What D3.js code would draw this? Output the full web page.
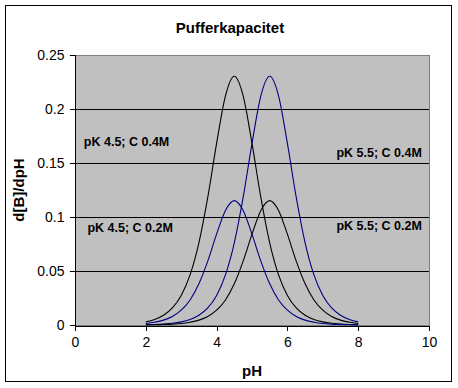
<!DOCTYPE html>
<html>
<head>
<meta charset="utf-8">
<script src="https://cdn.jsdelivr.net/npm/d3@7"></script>
<style>
  body { margin: 0; background: #fff; }
  text { font-family: Arial, "Liberation Sans", sans-serif; }
</style>
</head>
<body>
<script>
// pH values, same for all four curves
var phValues = [2, 2.25, 2.5, 2.75, 3, 3.25, 3.5, 3.75, 4, 4.25, 4.5, 4.75, 5,
    5.25, 5.5, 5.75, 6, 6.25, 6.5, 6.75, 7, 7.25, 7.5, 7.75, 8];

// buffer capacity
var pk45c04 = [0.0029, 0.0051, 0.0090, 0.0158, 0.0274, 0.0464, 0.0761, 0.1181, 0.1682,
    0.2122, 0.2303, 0.2122, 0.1682, 0.1181, 0.0761, 0.0464, 0.0274, 0.0158, 0.0090,
    0.0051, 0.0029, 0.0016, 0.0009, 0.0005, 0.0003];
var pk55c04 = [0.0003, 0.0005, 0.0009, 0.0016, 0.0029, 0.0051, 0.0090, 0.0158, 0.0274,
    0.0464, 0.0761, 0.1181, 0.1682, 0.2122, 0.2303, 0.2122, 0.1682, 0.1181, 0.0761,
    0.0464, 0.0274, 0.0158, 0.0090, 0.0051, 0.0029];
var pk45c02 = [0.0014, 0.0026, 0.0045, 0.0079, 0.0137, 0.0232, 0.0381, 0.0591, 0.0841,
    0.1061, 0.1152, 0.1061, 0.0841, 0.0591, 0.0381, 0.0232, 0.0137, 0.0079, 0.0045,
    0.0026, 0.0014, 0.0008, 0.0005, 0.0003, 0.0001];
var pk55c02 = [0.0001, 0.0003, 0.0005, 0.0008, 0.0014, 0.0026, 0.0045, 0.0079, 0.0137,
    0.0232, 0.0381, 0.0591, 0.0841, 0.1061, 0.1152, 0.1061, 0.0841, 0.0591, 0.0381,
    0.0232, 0.0137, 0.0079, 0.0045, 0.0026, 0.0014];

var xTicks = [0, 2, 4, 6, 8, 10];
var yTicks = [0, 0.05, 0.1, 0.15, 0.2, 0.25];

var series = [
    {values: pk45c04, color: '#000000'},
    {values: pk55c04, color: '#000080'},
    {values: pk45c02, color: '#000080'},
    {values: pk55c02, color: '#000000'}
];

var labels = [
    {text: 'pK 4.5; C 0.4M', x: 0.25, y: 0.166, anchor: 'start'},
    {text: 'pK 4.5; C 0.2M', x: 0.35, y: 0.086, anchor: 'start'},
    {text: 'pK 5.5; C 0.4M', x: 9.8, y: 0.156, anchor: 'end'},
    {text: 'pK 5.5; C 0.2M', x: 9.8, y: 0.088, anchor: 'end'}
];

var width = 458, height = 388;
var plot = {left: 75, right: 429, top: 55, bottom: 325};

var svg = d3.select('body')
    .append('svg')
    .attr('width', width)
    .attr('height', height);

// outer chart frame
svg.append('rect')
    .attr('x', 5.5)
    .attr('y', 5.5)
    .attr('width', 446)
    .attr('height', 376)
    .style('fill', '#fff')
    .style('stroke', '#000');

var x = d3.scaleLinear().domain([0, 10]).range([plot.left, plot.right]);
var y = d3.scaleLinear().domain([0, 0.25]).range([plot.bottom, plot.top]);

// grey plot area
svg.append('rect')
    .attr('x', plot.left)
    .attr('y', plot.top)
    .attr('width', plot.right - plot.left)
    .attr('height', plot.bottom - plot.top)
    .style('fill', '#c0c0c0')
    .style('stroke', '#808080')
    .attr('shape-rendering', 'crispEdges');

// gridlines
svg.selectAll('.grid')
    .data(yTicks.filter(function(d){ return d > 0 && d < 0.25; }))
    .enter()
    .append('line')
    .attr('class', 'grid')
    .attr('x1', plot.left)
    .attr('x2', plot.right)
    .attr('y1', function(d){ return Math.round(y(d)) + 0.5; })
    .attr('y2', function(d){ return Math.round(y(d)) + 0.5; })
    .style('stroke', '#000')
    .attr('shape-rendering', 'crispEdges');

// axes
var xAxis = svg.append('g')
    .attr('transform', 'translate(0,' + (plot.bottom + 0.5) + ')')
    .call(d3.axisBottom(x).tickValues(xTicks).tickSize(5).tickPadding(7).tickFormat(d3.format('d')));

var yAxis = svg.append('g')
    .attr('transform', 'translate(' + (plot.left - 0.5) + ',0)')
    .call(d3.axisLeft(y).tickValues(yTicks).tickSize(5).tickPadding(5).tickFormat(function(d){ return String(d); }));

[xAxis, yAxis].forEach(function(a){
    a.select('.domain').style('stroke', '#000').attr('shape-rendering', 'crispEdges');
    a.selectAll('line').style('stroke', '#000').attr('shape-rendering', 'crispEdges');
    a.selectAll('text')
        .style('font-family', 'Arial, "Liberation Sans", sans-serif')
        .style('font-size', '14px')
        .style('fill', '#000');
});

// curves
var line = d3.line()
    .x(function(d, i){ return x(phValues[i]); })
    .y(function(d){ return y(d); })
    .curve(d3.curveMonotoneX);

svg.selectAll('.curve')
    .data(series)
    .enter()
    .append('path')
    .attr('class', 'curve')
    .attr('d', function(s){ return line(s.values); })
    .style('fill', 'none')
    .style('stroke', function(s){ return s.color; })
    .style('stroke-width', 1.1);

// curve labels
svg.selectAll('.lbl')
    .data(labels)
    .enter()
    .append('text')
    .attr('class', 'lbl')
    .attr('x', function(d){ return x(d.x); })
    .attr('y', function(d){ return y(d.y); })
    .attr('text-anchor', function(d){ return d.anchor; })
    .style('font-size', '12.5px')
    .style('font-weight', 'bold')
    .text(function(d){ return d.text; });

// titles
svg.append('text')
    .attr('x', 230)
    .attr('y', 33)
    .attr('text-anchor', 'middle')
    .style('font-size', '15px')
    .style('font-weight', 'bold')
    .text('Pufferkapacitet');

svg.append('text')
    .attr('x', 252)
    .attr('y', 376)
    .attr('text-anchor', 'middle')
    .style('font-size', '15px')
    .style('font-weight', 'bold')
    .text('pH');

svg.append('text')
    .attr('transform', 'translate(24,' + ((plot.top + plot.bottom) / 2) + ') rotate(-90)')
    .attr('text-anchor', 'middle')
    .style('font-size', '15px')
    .style('font-weight', 'bold')
    .text('d[B]/dpH');
</script>
</body>
</html>
